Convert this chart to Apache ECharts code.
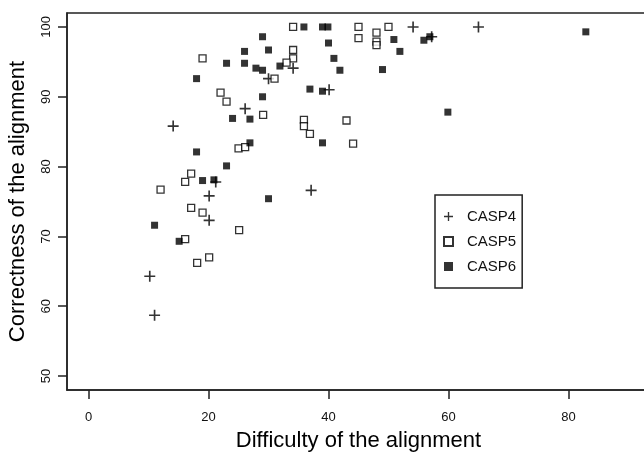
<!DOCTYPE html>
<html>
<head>
<meta charset="utf-8">
<script src="https://cdn.jsdelivr.net/npm/echarts@6/dist/echarts.min.js"></script>
<style>
  html, body { margin: 0; padding: 0; background: #fff; }
  #main { width: 644px; height: 452px; }
</style>
</head>
<body>
<div id="main"></div>
<script>
// difficulty (x) vs correctness (y) of the alignment
const casp4 = [
  [34.1, 94.1], [30.0, 92.6], [40.1, 91.0], [26.1, 88.3], [14.1, 85.8],
  [21.2, 77.8], [20.1, 75.8], [37.1, 76.6], [20.1, 72.3], [10.2, 64.3],
  [11.0, 58.7], [54.1, 100], [65.0, 100], [57.2, 98.6]
];
const casp5 = [
  [34.1, 100], [19.0, 95.5], [34.1, 96.7], [34.1, 95.5], [33.0, 94.9],
  [31.0, 92.6], [22.0, 90.6], [23.0, 89.3], [29.1, 87.4], [35.9, 86.7],
  [35.9, 85.8], [36.9, 84.7], [25.0, 82.6], [26.1, 82.8], [17.1, 79.0],
  [16.1, 77.8], [12.0, 76.7], [17.1, 74.1], [19.0, 73.4], [25.1, 70.9],
  [16.1, 69.6], [18.1, 66.2], [20.1, 67.0], [45.0, 100], [45.0, 98.4],
  [48.0, 99.2], [48.0, 97.9], [48.0, 97.4], [50.0, 100], [43.0, 86.6],
  [44.1, 83.3]
];
const casp6 = [
  [35.9, 100], [39.0, 100], [39.9, 100], [40.0, 97.7], [29.0, 98.6],
  [26.0, 96.5], [30.0, 96.7], [23.0, 94.8], [26.0, 94.8], [31.9, 94.4],
  [27.9, 94.1], [29.0, 93.8], [18.0, 92.6], [36.9, 91.1], [39.0, 90.8],
  [29.0, 90.0], [24.0, 86.9], [26.9, 86.8], [39.0, 83.4], [26.9, 83.4],
  [18.0, 82.1], [23.0, 80.1], [19.0, 78.0], [20.9, 78.1], [30.0, 75.4],
  [11.0, 71.6], [15.1, 69.3], [50.9, 98.2], [55.9, 98.1], [56.9, 98.6],
  [82.9, 99.3], [51.9, 96.5], [40.9, 95.5], [41.9, 93.8], [49.0, 93.9],
  [59.9, 87.8]
];
const xTicks = [0, 20, 40, 60, 80];
const yTicks = [50, 60, 70, 80, 90, 100];

const plusPath = 'path://M4.25,0h1.5v4.25h4.25v1.5h-4.25v4.25h-1.5v-4.25h-4.25v-1.5h4.25z';
const font = 'Liberation Sans, Arial, sans-serif';
const axisColor = '#222';

const myChart = echarts.init(document.getElementById('main'));
const option = {
  backgroundColor: '#fff',
  animation: false,
  textStyle: { fontFamily: font },
  grid: {
    left: 67,
    top: 13,
    width: 583,
    height: 377,
    outerBoundsMode: 'none',
    show: true,
    borderColor: axisColor,
    borderWidth: 1.5
  },
  legend: {
    orient: 'vertical',
    left: 435,
    top: 195,
    padding: [14, 6, 14, 8],
    itemWidth: 9,
    itemHeight: 9,
    itemGap: 10,
    borderColor: axisColor,
    borderWidth: 1.5,
    borderRadius: 0,
    textStyle: { fontSize: 15, color: '#111', lineHeight: 15, padding: [0, 0, 0, 9] },
    data: [
      { name: 'CASP4', icon: plusPath },
      { name: 'CASP5', icon: 'rect' },
      { name: 'CASP6', icon: 'rect' }
    ]
  },
  xAxis: {
    type: 'value',
    min: -3.6,
    max: 93.6,
    name: 'Difficulty of the alignment',
    nameLocation: 'middle',
    nameGap: 40,
    nameTextStyle: { fontSize: 22, color: '#000' },
    splitLine: { show: false },
    axisLine: { show: true, onZero: false, lineStyle: { color: axisColor, width: 1.5 } },
    axisTick: { show: true, inside: true, length: -9, customValues: xTicks, lineStyle: { color: axisColor, width: 1.5 } },
    axisLabel: { customValues: xTicks, margin: 21, fontSize: 13, color: '#111' }
  },
  yAxis: [
    {
      type: 'value',
      min: 48,
      max: 102,
      position: 'left',
      name: 'Correctness of the alignment',
      nameLocation: 'middle',
      nameGap: 38,
      nameTextStyle: { fontSize: 22, color: '#000' },
      splitLine: { show: false },
      axisLine: { show: true, onZero: false, lineStyle: { color: axisColor, width: 1.5 } },
      axisTick: { show: false },
      axisLabel: { customValues: yTicks, margin: 14, fontSize: 13, color: '#111', rotate: 90 }
    },
    {
      // tick marks only: axis moved 9px left, ticks point back to the box
      type: 'value',
      min: 48,
      max: 102,
      position: 'left',
      offset: 9,
      splitLine: { show: false },
      axisLine: { show: false, onZero: false },
      axisTick: { show: true, inside: true, length: 9, customValues: yTicks, lineStyle: { color: axisColor, width: 1.5 } },
      axisLabel: { show: false }
    }
  ],
  series: [
    {
      name: 'CASP4',
      type: 'scatter',
      symbol: plusPath,
      symbolSize: 11,
      itemStyle: { color: '#000' },
      data: casp4
    },
    {
      name: 'CASP5',
      type: 'scatter',
      symbol: 'rect',
      symbolSize: 7,
      itemStyle: { color: '#fff', borderColor: '#000', borderWidth: 1.3 },
      data: casp5
    },
    {
      name: 'CASP6',
      type: 'scatter',
      symbol: 'rect',
      symbolSize: 7,
      itemStyle: { color: '#000' },
      data: casp6
    }
  ]
};
myChart.setOption(option);
</script>
</body>
</html>
